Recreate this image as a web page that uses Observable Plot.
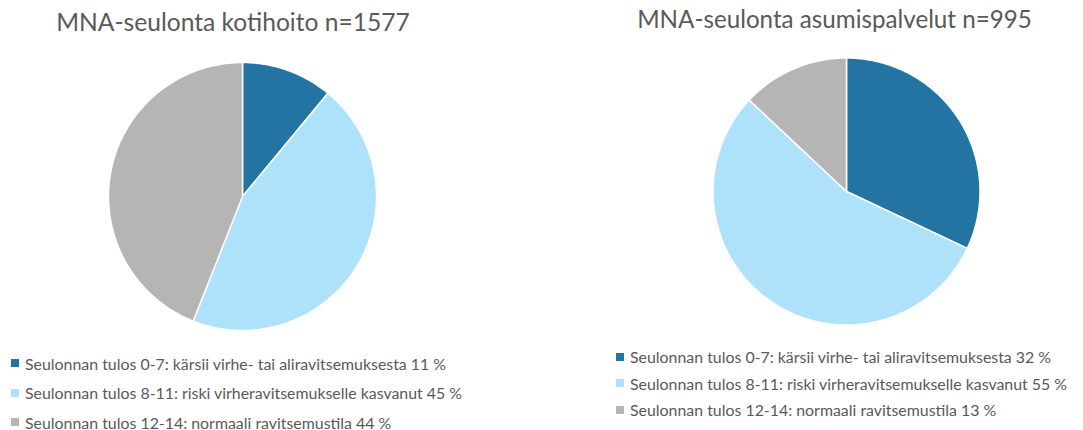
<!DOCTYPE html>
<html>
<head>
<meta charset="utf-8">
<script src="https://cdn.jsdelivr.net/npm/d3@7"></script>
<script src="https://cdn.jsdelivr.net/npm/@observablehq/plot@0.6"></script>
<style>
  html, body { margin: 0; padding: 0; background: #fff; }
  body { width: 1083px; height: 430px; position: relative; overflow: hidden; font-family: Lato, "Open Sans", sans-serif; color: #595959; }
  .title { position: absolute; width: 600px; text-align: center; line-height: 1.2; white-space: nowrap; }
  .pie { position: absolute; }
  .legend { position: absolute; white-space: nowrap; }
  .legend .row { display: flex; align-items: center; }
  .legend .sw { width: 8px; height: 8px; margin-right: 6px; flex: none; }
</style>
</head>
<body>
<script>
const categories = [
  "Seulonnan tulos 0-7: kärsii virhe- tai aliravitsemuksesta",
  "Seulonnan tulos 8-11: riski virheravitsemukselle kasvanut",
  "Seulonnan tulos 12-14: normaali ravitsemustila"
];
const kotihoitoValues = [11, 45, 44];
const asumisValues = [32, 55, 13];
const titles = ["MNA-seulonta kotihoito n=1577", "MNA-seulonta asumispalvelut n=995"];
const colors = ["#2374a2", "#ade2fa", "#b5b5b5"];

const panels = [
  {title: titles[0], values: kotihoitoValues, cx: 241.5, cy: 195.5, r: 134, titleCx: 233, titleTop: 7, titleSize: 24.6,
   legendLeft: 11, legendTop: 348.5, rowH: 29.5, legendSize: 15.9},
  {title: titles[1], values: asumisValues, cx: 846, cy: 191, r: 133.5, titleCx: 834.5, titleTop: 4, titleSize: 24.2,
   legendLeft: 616, legendTop: 343.5, rowH: 26.5, legendSize: 15.9}
];

function slicePolygons(values) {
  const total = d3.sum(values);
  const rows = [];
  let acc = 0;
  values.forEach((v, i) => {
    const a0 = acc / total * 2 * Math.PI;
    acc += v;
    const a1 = acc / total * 2 * Math.PI;
    const n = Math.max(2, Math.ceil((a1 - a0) / 0.01));
    rows.push({cat: categories[i], x: 0, y: 0});
    for (let k = 0; k <= n; k++) {
      const a = a0 + (a1 - a0) * k / n;
      rows.push({cat: categories[i], x: Math.sin(a), y: Math.cos(a)});
    }
    rows.push({cat: categories[i], x: 0, y: 0});
  });
  return rows;
}

for (const p of panels) {
  const t = document.createElement("div");
  t.className = "title";
  t.textContent = p.title;
  t.style.left = (p.titleCx - 300) + "px";
  t.style.top = p.titleTop + "px";
  t.style.fontSize = p.titleSize + "px";
  document.body.appendChild(t);

  const size = 300;
  const ext = size / 2 / p.r;
  const chart = Plot.plot({
    width: size, height: size,
    margin: 0,
    x: {domain: [-ext, ext], axis: null},
    y: {domain: [-ext, ext], axis: null},
    color: {domain: categories, range: colors},
    marks: [
      Plot.line(slicePolygons(p.values), {x: "x", y: "y", z: "cat", fill: "cat", stroke: "white", strokeWidth: 1.5, strokeLinejoin: "round"})
    ]
  });
  const wrap = document.createElement("div");
  wrap.className = "pie";
  wrap.style.left = (p.cx - size / 2) + "px";
  wrap.style.top = (p.cy - size / 2) + "px";
  wrap.appendChild(chart);
  document.body.appendChild(wrap);

  const lg = document.createElement("div");
  lg.className = "legend";
  lg.style.left = p.legendLeft + "px";
  lg.style.top = p.legendTop + "px";
  lg.style.fontSize = p.legendSize + "px";
  categories.forEach((c, i) => {
    const row = document.createElement("div");
    row.className = "row";
    row.style.height = p.rowH + "px";
    const sw = document.createElement("span");
    sw.className = "sw";
    sw.style.background = colors[i];
    const tx = document.createElement("span");
    tx.textContent = c + " " + p.values[i] + " %";
    row.appendChild(sw);
    row.appendChild(tx);
    lg.appendChild(row);
  });
  document.body.appendChild(lg);
}
</script>
</body>
</html>
